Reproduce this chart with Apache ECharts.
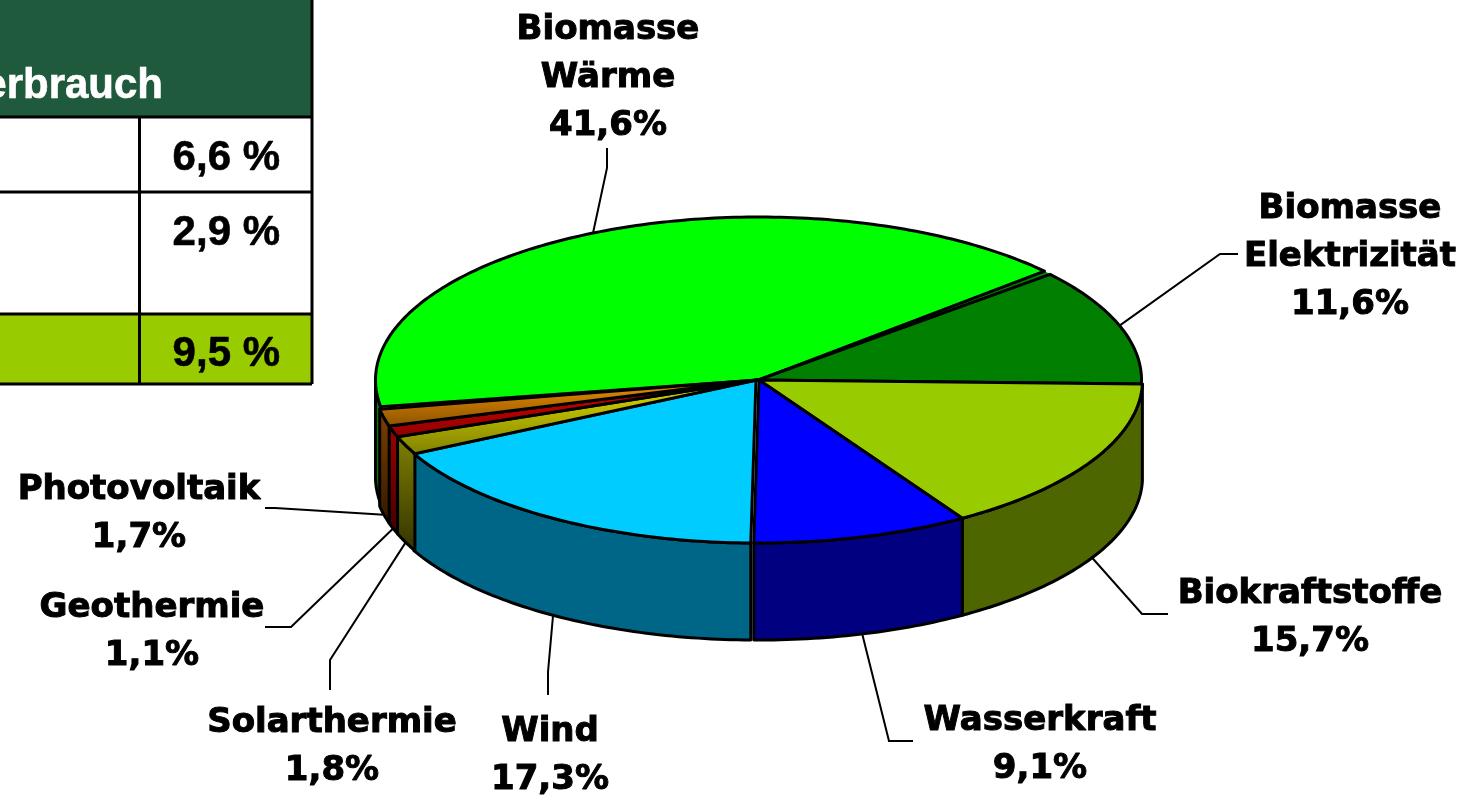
<!DOCTYPE html>
<html>
<head>
<meta charset="utf-8">
<style>
	html, body { margin: 0; padding: 0; background: #fff; }
	#chart { width: 1476px; height: 797px; }
</style>
</head>
<body>
<div id="chart"></div>
<script src="https://cdn.jsdelivr.net/npm/echarts@6/dist/echarts.min.js"></script>
<script>
// data
const categories = ['Biomasse\nWärme', 'Biomasse\nElektrizität', 'Biokraftstoffe', 'Wasserkraft', 'Wind', 'Solarthermie', 'Geothermie', 'Photovoltaik'];
const shares = [41.6, 11.6, 15.7, 9.1, 17.3, 1.8, 1.1, 1.7];
const tableHeader = 'erbrauch';
const tableValues = ['6,6 %', '2,9 %', '9,5 %'];

// ellipse of the pie top
const cx = 758, cy = 380, rx = 383.5, ry = 163, depth = 97;
const startAngle = 190.3; // degrees, slices run clockwise

// per slice: top colours, side colours, small shift, label centre, leader elbow + end
const topColors = [
	['#00ff00', '#00ff00'], ['#007f00', '#007f00'], ['#99cc00', '#99cc00'], ['#0000ff', '#0000ff'],
	['#00ccff', '#00ccff'], ['#e0e000', '#808000'], ['#d80000', '#900000'], ['#f09400', '#8a5000'],
];
const sideColors = [
	['#007f00', '#007f00'], ['#004d00', '#004d00'], ['#4d6600', '#4d6600'], ['#000080', '#000080'],
	['#006688', '#006688'], ['#808000', '#333300'], ['#a00000', '#400000'], ['#804000', '#301800'],
];
const shifts = [[1, 0], [0, 0], [1, 0], [1, 0], [-2, 0], [-1, 0], [-1, 0], [-1, 0]];
// Wärme is drawn a little narrower, the gap shows dark green in the reference
const trims = [[0.9, 1.5], [0, 0], [0, 0], [0, 0], [0, 0], [0, 0], [0, 0], [0, 0]];
const labelPos = [[608, 78], [1350, 257], [1310, 618], [1040, 745], [550, 756], [332, 747], [152, 632], [139, 514]];
const leaders = [
	[[607, 168], [607, 148]], [[1220, 254], [1238, 254]], [[1142, 614], [1168, 614]], [[889, 741], [913, 741]],
	[[548, 672], [548, 695]], [[330, 660], [330, 690]], [[291, 627], [265, 627]], [[275, 508], [265, 508]],
];
const total = shares.reduce((a, b) => a + b, 0);

function pt(deg, sx, sy, down) {
	const r = (deg * Math.PI) / 180;
	return [cx + sx + rx * Math.cos(r), cy + sy - ry * Math.sin(r) + (down || 0)];
}
function gradient(c) {
	return new echarts.graphic.LinearGradient(0, 0, 0, 1, [
		{ offset: 0, color: c[0] },
		{ offset: 1, color: c[1] },
	]);
}

function renderSlice(params, api) {
	const i = params.dataIndex;
	const before = shares.slice(0, i).reduce((a, b) => a + b, 0);
	const fullStart = startAngle - (before / total) * 360;
	const fullEnd = fullStart - (api.value(0) / total) * 360;
	const a0 = fullStart - trims[i][0];
	const a1 = fullEnd + trims[i][1];
	const [sx, sy] = shifts[i];
	const children = [];

	// top face
	const top = [[cx + sx, cy + sy]];
	const steps = Math.max(4, Math.ceil(a0 - a1));
	for (let k = 0; k <= steps; k++) top.push(pt(a0 + ((a1 - a0) * k) / steps, sx, sy));

	// side wall: only the arc part in the lower half
	const sideAngles = [];
	for (let k = 0; k <= steps; k++) {
		const a = a0 + ((a1 - a0) * k) / steps;
		if (Math.sin((a * Math.PI) / 180) <= 0) sideAngles.push(a);
	}
	if (sideAngles.length > 1) {
		const side = sideAngles.map((a) => pt(a, sx, sy));
		sideAngles.slice().reverse().forEach((a) => side.push(pt(a, sx, sy, depth)));
		children.push({
			type: 'polygon',
			z2: 10 + i,
			shape: { points: side },
			style: { fill: gradient(sideColors[i]), stroke: '#000', lineWidth: 3, lineJoin: 'round' },
		});
	}
	if (trims[i][1] > 0) {
		children.push({
			type: 'polygon',
			z2: 25,
			shape: { points: [[cx + sx, cy + sy], pt(a1, sx, sy), pt(fullEnd, sx, sy)] },
			style: { fill: '#007f00' },
		});
	}
	children.push({
		type: 'polygon',
		z2: 30 + i,
		shape: { points: top },
		style: { fill: gradient(topColors[i]), stroke: '#000', lineWidth: 3, lineJoin: 'round' },
	});

	// leader line starts on the rim at the middle of the slice
	const mid = (a0 + a1) / 2;
	const front = Math.sin((mid * Math.PI) / 180) < 0;
	const start = pt(mid, sx, sy, front ? depth : 0);
	children.push({
		type: 'polyline',
		z2: 5,
		shape: { points: [start, leaders[i][0], leaders[i][1]] },
		style: { fill: null, stroke: '#000', lineWidth: 2 },
	});

	// label
	children.push({
		type: 'text',
		z2: 60,
		style: {
			text: categories[i] + '\n' + String(api.value(0)).replace('.', ',') + '%',
			x: labelPos[i][0],
			y: labelPos[i][1],
			align: 'center',
			verticalAlign: 'middle',
			font: 'bold 34px "DejaVu Sans"',
			lineHeight: 48,
			fill: '#000',
			stroke: '#000',
			lineWidth: 1,
		},
	});
	return { type: 'group', children };
}

// table cut off by the left edge of the picture
const tableX = 0, colX = 139.5, tableR = 312;
const rowY = [117, 192, 314, 384];
const tableFont = 'bold 42px "Liberation Sans"';
const black = { stroke: '#000', lineWidth: 3 };
const tableGraphic = [
	{ type: 'rect', shape: { x: tableX - 5, y: -5, width: tableR + 5, height: rowY[0] + 5 }, style: { fill: '#1f5a3c' } },
	{ type: 'rect', shape: { x: tableX - 5, y: rowY[2], width: tableR + 5, height: rowY[3] - rowY[2] }, style: { fill: '#99cc00' } },
	{ type: 'text', style: { text: tableHeader, x: 163, y: 86, align: 'right', verticalAlign: 'middle', font: tableFont, fill: '#fff', stroke: '#fff', lineWidth: 0.6 } },
	{ type: 'line', shape: { x1: tableR, y1: 0, x2: tableR, y2: rowY[3] }, style: black },
	{ type: 'line', shape: { x1: colX, y1: rowY[0], x2: colX, y2: rowY[3] }, style: black },
];
rowY.forEach((y) => {
	tableGraphic.push({ type: 'line', shape: { x1: tableX, y1: y, x2: tableR, y2: y }, style: black });
});
[158, 233, 354].forEach((y, i) => {
	tableGraphic.push({
		type: 'text',
		style: { text: tableValues[i], x: 280, y: y, align: 'right', verticalAlign: 'middle', font: tableFont, fill: '#000', stroke: '#000', lineWidth: 0.6 },
	});
});

const chart = echarts.init(document.getElementById('chart'), null, { renderer: 'canvas' });
chart.setOption({
	animation: false,
	backgroundColor: '#fff',
	graphic: tableGraphic,
	series: [
		{
			type: 'custom',
			coordinateSystem: 'none',
			data: shares.map((v) => [v]),
			renderItem: renderSlice,
			silent: true,
		},
	],
});
</script>
</body>
</html>
